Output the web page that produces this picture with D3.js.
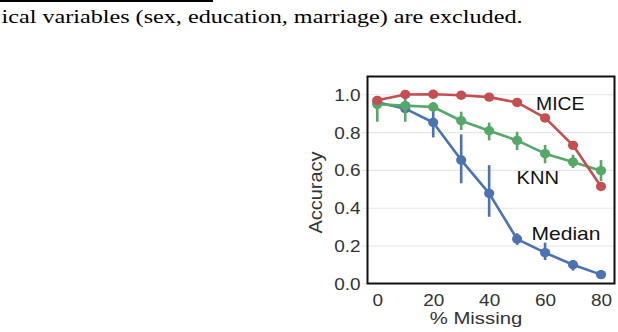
<!DOCTYPE html>
<html><head><meta charset="utf-8">
<script src="https://cdn.jsdelivr.net/npm/d3@7"></script>
<style>body{margin:0;background:#fff}svg{display:block}</style>
</head><body>
<script>
const missing = [0,10,20,30,40,50,60,70,80];
const miceVals = [0.968, 0.999, 1.0, 0.995, 0.985, 0.957, 0.875, 0.730, 0.512];
const miceLo   = [0.955, 0.992, 0.995, 0.988, 0.975, 0.945, 0.862, 0.715, 0.500];
const miceHi   = [0.980, 1.004, 1.004, 1.002, 0.994, 0.968, 0.888, 0.745, 0.525];
const knnVals  = [0.947, 0.940, 0.933, 0.860, 0.807, 0.756, 0.686, 0.642, 0.596];
const knnLo    = [0.855, 0.855, 0.908, 0.811, 0.756, 0.705, 0.635, 0.610, 0.541];
const knnHi    = [0.985, 0.980, 0.958, 0.908, 0.850, 0.802, 0.732, 0.680, 0.652];
const medVals  = [0.958, 0.924, 0.851, 0.652, 0.476, 0.234, 0.162, 0.098, 0.046];
const medLo    = [0.930, 0.905, 0.772, 0.529, 0.352, 0.203, 0.123, 0.067, 0.030];
const medHi    = [0.980, 0.963, 0.924, 0.788, 0.625, 0.265, 0.215, 0.123, 0.070];
const yTicks = [0.0, 0.2, 0.4, 0.6, 0.8, 1.0];
const xTicks = [0, 20, 40, 60, 80];
const seriesNames = ["Median", "KNN", "MICE"];
const captionText = "ical variables (sex, education, marriage) are excluded.";

const W = 618, H = 332;
const svg = d3.select("body").append("svg").attr("width", W).attr("height", H);

// caption fragment at top
svg.append("rect").attr("x", 0).attr("y", 0).attr("width", 213).attr("height", 2).attr("fill", "#000");
svg.append("text").attr("x", 1.5).attr("y", 22.5)
  .attr("font-family", "Liberation Serif, Times New Roman, serif").attr("font-size", 19)
  .attr("textLength", 521).attr("lengthAdjust", "spacingAndGlyphs")
  .attr("fill", "#000").text(captionText);

const frame = {left: 367.5, right: 614.5, top: 76.5, bottom: 283.5};
const x = d3.scaleLinear().domain([0, 80]).range([377.3, 601]);
const y = d3.scaleLinear().domain([0, 1]).range([283.3, 94.3]);
const sx = 1.15;

// gridlines + y axis
const yAxis = svg.append("g").attr("transform", `translate(${frame.left},0)`)
  .call(d3.axisLeft(y).tickValues(yTicks).tickFormat(d3.format(".1f"))
    .tickSize(-(frame.right - frame.left)).tickPadding(0));
yAxis.select(".domain").remove();
yAxis.selectAll(".tick line").attr("stroke", "#e6e6e6").attr("stroke-width", 1.1)
  .attr("x1", -6);
yAxis.selectAll(".tick text")
  .attr("font-family", "Liberation Sans, Arial, sans-serif").attr("font-size", 16.5)
  .attr("fill", "#333").attr("text-anchor", "end")
  .attr("x", -7 / sx).attr("dy", "0.36em")
  .attr("transform", `scale(${sx},1)`);

const xAxis = svg.append("g").attr("transform", `translate(0,${frame.bottom})`)
  .call(d3.axisBottom(x).tickValues(xTicks).tickSize(0).tickPadding(0));
xAxis.select(".domain").remove();
xAxis.selectAll(".tick text")
  .attr("font-family", "Liberation Sans, Arial, sans-serif").attr("font-size", 16.5)
  .attr("fill", "#333").attr("dy", 0).attr("y", 22.5)
  .attr("transform", `scale(${sx},1)`);

const colors = {Median: "#4C72B0", KNN: "#55A868", MICE: "#C44E52"};
const dataSets = {
  Median: {v: medVals, lo: medLo, hi: medHi},
  KNN: {v: knnVals, lo: knnLo, hi: knnHi},
  MICE: {v: miceVals, lo: miceLo, hi: miceHi}
};
const line = d3.line().x(d => x(d[0])).y(d => y(d[1]));
seriesNames.forEach(name => {
  const ds = dataSets[name];
  const g = svg.append("g");
  const pts = missing.map((m, i) => [m, ds.v[i]]);
  g.append("path").attr("d", line(pts)).attr("fill", "none")
    .attr("stroke", colors[name]).attr("stroke-width", 2.6).attr("stroke-linejoin", "round");
  g.selectAll("line.err").data(missing).join("line").attr("class", "err")
    .attr("x1", d => x(d)).attr("x2", d => x(d))
    .attr("y1", (d, i) => y(ds.lo[i])).attr("y2", (d, i) => y(ds.hi[i]))
    .attr("stroke", colors[name]).attr("stroke-width", 2.6);
  g.selectAll("ellipse").data(pts).join("ellipse")
    .attr("cx", d => x(d[0])).attr("cy", d => y(d[1])).attr("rx", 5.1).attr("ry", 4.7)
    .attr("fill", colors[name]);
});

// frame
svg.append("rect").attr("x", frame.left).attr("y", frame.top)
  .attr("width", frame.right - frame.left).attr("height", frame.bottom - frame.top)
  .attr("fill", "none").attr("stroke", "#111").attr("stroke-width", 2);

// annotations
const labelFont = "Liberation Sans, Arial, sans-serif";
const ann = [
  {name: "MICE", x: 536, y: 109.5, len: 48.5},
  {name: "KNN", x: 516.5, y: 183.5, len: 42.5},
  {name: "Median", x: 531.5, y: 240, len: 69}
];
svg.selectAll("text.ann").data(ann).join("text").attr("class", "ann")
  .attr("x", d => d.x).attr("y", d => d.y)
  .attr("font-family", labelFont).attr("font-size", 18.5).attr("fill", "#111")
  .attr("textLength", d => d.len).attr("lengthAdjust", "spacingAndGlyphs")
  .text(d => d.name);

// axis titles
svg.append("text").attr("transform", "translate(321.5,192.5) rotate(-90)")
  .attr("text-anchor", "middle").attr("font-family", labelFont).attr("font-size", 18.5)
  .attr("fill", "#333").attr("textLength", 82).attr("lengthAdjust", "spacingAndGlyphs")
  .text("Accuracy");
svg.append("text").attr("x", 476).attr("y", 324).attr("text-anchor", "middle")
  .attr("font-family", labelFont).attr("font-size", 17).attr("fill", "#333")
  .attr("textLength", 92.5).attr("lengthAdjust", "spacingAndGlyphs")
  .text("% Missing");
</script>
</body></html>
